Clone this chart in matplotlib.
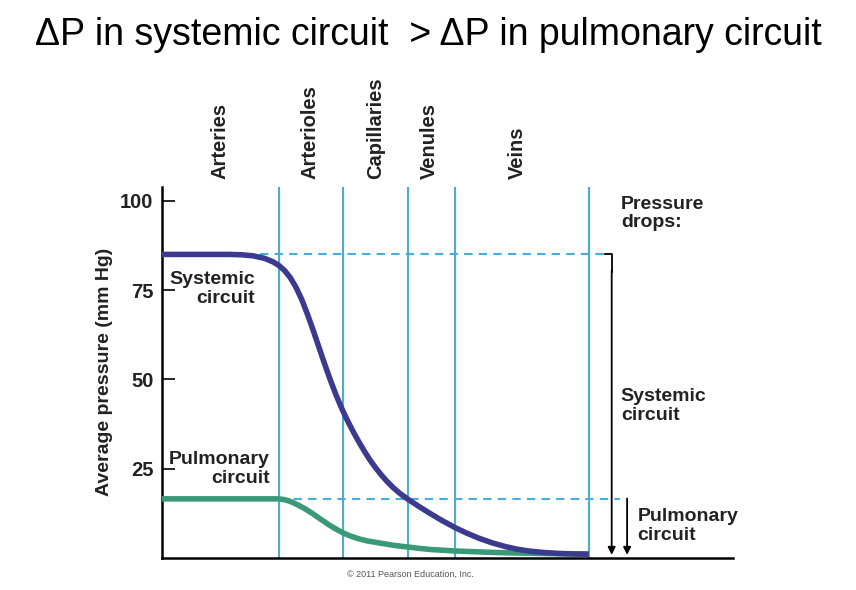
import matplotlib
matplotlib.use('Agg')
import matplotlib.pyplot as plt

plt.rcParams['font.family'] = ['Liberation Sans', 'DejaVu Sans']

# x runs 0..100 across the axis (arbitrary position along the circulation)
vessel_names = ['Arteries', 'Arterioles', 'Capillaries', 'Venules', 'Veins']
vessel_label_x = [10.2, 25.9, 37.5, 46.9, 62.3]
boundaries = [20.5, 31.7, 43.1, 51.3, 74.8]

# systemic circuit pressure (mm Hg)
sys_x = [0, 11.9, 14.0, 16.0, 18.0, 19.5, 20.5, 21.5, 22.5, 23.5, 24.5,
         25.5, 26.5, 27.5, 28.5, 29.5, 30.5, 31.5, 32.5, 33.5, 34.5,
         35.5, 36.5, 37.5, 38.5, 39.5, 40.5, 41.8, 43.1, 45.0, 46.9,
         49.0, 51.3, 53.4, 55.5, 57.8, 60.0, 62.2, 64.4, 67.0, 69.6,
         72.2, 74.8]
sys_y = [85, 85.0, 84.9, 84.6, 83.9, 82.9, 81.9, 80.5, 78.5, 75.8, 72.4,
         68.3, 63.8, 59.1, 54.4, 49.9, 45.7, 41.9, 38.5, 35.4, 32.5,
         29.8, 27.3, 25.1, 23.1, 21.3, 19.7, 17.9, 16.4, 14.4, 12.5,
         10.5, 8.5, 6.9, 5.5, 4.2, 3.2, 2.4, 1.85, 1.45, 1.2,
         1.05, 1.0]

# pulmonary circuit pressure (mm Hg)
pul_x = [0, 20.5, 21.4, 22.3, 23.2, 24.2, 25.2, 26.2, 27.2, 28.2, 29.1,
         30.0, 30.9, 31.7, 33.0, 34.5, 36.0, 37.5, 39.0, 40.5, 42.0,
         43.1, 45.2, 47.2, 49.2, 51.3, 54.5, 57.8, 61.1, 64.4, 69.6, 74.8]
pul_y = [16.5, 16.5, 16.3, 15.9, 15.3, 14.5, 13.6, 12.6, 11.5, 10.4, 9.4,
         8.5, 7.7, 7.0, 6.1, 5.3, 4.7, 4.3, 3.9, 3.5, 3.2,
         3.0, 2.6, 2.3, 2.1, 1.9, 1.7, 1.5, 1.35, 1.25, 1.1, 1.0]

yticks = [25, 50, 75, 100]

sys_color = '#3b3a8f'
pul_color = '#3a9a78'
line_blue = '#45aedb'
txt_color = '#222222'

fig = plt.figure(figsize=(8.56, 5.90), dpi=100)
ax = fig.add_axes([0.189, 0.0547, 0.667, 0.629])

ax.set_xlim(0, 100)
ax.set_ylim(0, 104)

for b in boundaries:
    ax.axvline(b, color=line_blue, lw=1.5, zorder=1)

# dashed reference levels
ax.plot([17.2, 78.8], [85, 85], color=line_blue, lw=1.5, ls=(0, (4, 3)), zorder=1)
ax.plot([20.5, 80.2], [16.5, 16.5], color=line_blue, lw=1.5, ls=(0, (4, 3)), zorder=1)

ax.plot(pul_x, pul_y, color=pul_color, lw=4, solid_capstyle='butt',
        solid_joinstyle='round', zorder=3)
ax.plot(sys_x, sys_y, color=sys_color, lw=4, solid_capstyle='butt',
        solid_joinstyle='round', zorder=4)

# pressure drop arrows
ax.plot([77.6, 78.8, 78.8], [85, 85, 80], color='black', lw=1.3, clip_on=False)
ax.annotate('', xy=(78.8, 0.8), xytext=(78.8, 80.5),
            arrowprops=dict(arrowstyle='-|>', color='black', lw=1.3,
                            mutation_scale=11, shrinkA=0, shrinkB=0))
ax.annotate('', xy=(81.5, 0.8), xytext=(81.5, 16.6),
            arrowprops=dict(arrowstyle='-|>', color='black', lw=1.3,
                            mutation_scale=11, shrinkA=0, shrinkB=0))

for name, xx in zip(vessel_names, vessel_label_x):
    ax.text(xx, 106, name, rotation=90, ha='center', va='bottom',
            fontsize=14.5, fontweight='bold', color=txt_color, clip_on=False)

ax.text(16.3, 80.3, 'Systemic\ncircuit', ha='right', va='top', fontsize=14,
        fontweight='bold', color=txt_color, linespacing=1.15)
ax.text(18.9, 30.0, 'Pulmonary\ncircuit', ha='right', va='top', fontsize=14,
        fontweight='bold', color=txt_color, linespacing=1.15)
ax.text(80.4, 101.5, 'Pressure\ndrops:', ha='left', va='top', fontsize=14,
        fontweight='bold', color=txt_color, linespacing=1.15, clip_on=False)
ax.text(80.4, 47.5, 'Systemic\ncircuit', ha='left', va='top', fontsize=14,
        fontweight='bold', color=txt_color, linespacing=1.15, clip_on=False)
ax.text(83.3, 14.0, 'Pulmonary\ncircuit', ha='left', va='top', fontsize=14,
        fontweight='bold', color=txt_color, linespacing=1.15, clip_on=False)

ax.spines['top'].set_visible(False)
ax.spines['right'].set_visible(False)
ax.spines['left'].set_linewidth(1.8)
ax.spines['bottom'].set_linewidth(1.8)
ax.set_xticks([])
ax.set_yticks(yticks)
ax.set_yticklabels([str(t) for t in yticks], fontsize=14.5, fontweight='bold',
                   color=txt_color)
ax.tick_params(axis='y', direction='in', length=9, width=1.2, pad=6)
ax.set_ylabel('Average pressure (mm Hg)', fontsize=14, fontweight='bold',
              color=txt_color, labelpad=5)

fig.text(0.5, 0.94, '\u0394P in systemic circuit  > \u0394P in pulmonary circuit',
         ha='center', va='center', fontsize=27)
fig.text(0.479, 0.026, '\u00a9 2011 Pearson Education, Inc.', ha='center',
         va='center', fontsize=6.5, color='#555555')

fig.savefig('out.png', dpi=100)
